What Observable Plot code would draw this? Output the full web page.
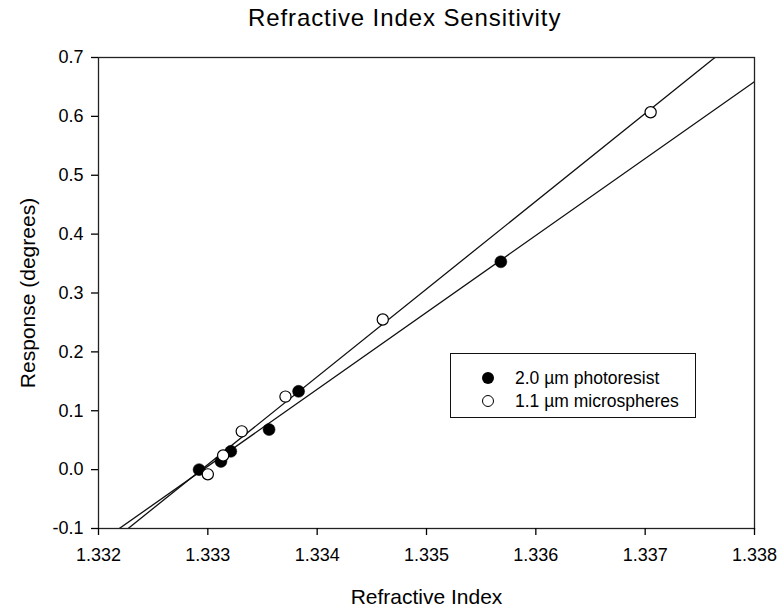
<!DOCTYPE html>
<html>
<head>
<meta charset="utf-8">
<script src="https://cdn.jsdelivr.net/npm/d3@7"></script>
<script src="https://cdn.jsdelivr.net/npm/@observablehq/plot@0.6"></script>
<style>
  body { margin: 0; background: #fff; font-family: "Liberation Sans", Arial, sans-serif; }
  #wrap { position: relative; width: 779px; height: 610px; overflow: hidden; }
  #title { position: absolute; left: 248px; top: 4px; font-size: 24px; letter-spacing: 0.9px; color: #000; white-space: nowrap; }
  #chart { position: absolute; left: 0; top: 40px; }
  #legend { position: absolute; left: 450px; top: 353px; width: 246px; height: 65px; border: 1px solid #111; box-sizing: border-box; background: #fff; }
  .item { position: absolute; left: 0; height: 20px; font-size: 17.5px; line-height: 20px; color: #000; white-space: nowrap; }
  .sym { position: absolute; left: 31px; top: 4px; width: 12px; height: 12px; border-radius: 50%; box-sizing: border-box; }
  .lbl { position: absolute; left: 64px; top: 0; }
</style>
</head>
<body>
<div id="wrap">
  <div id="title">Refractive Index Sensitivity</div>
  <div id="chart"></div>
  <div id="legend"></div>
</div>
<script>
// ---- data ----
const seriesNames = ["2.0 µm photoresist", "1.1 µm microspheres"];
const photoresistX = [1.33292, 1.33312, 1.33321, 1.33356, 1.33383, 1.33568];
const photoresistY = [0.000, 0.014, 0.031, 0.068, 0.133, 0.353];
const microspheresX = [1.33300, 1.33314, 1.33331, 1.33371, 1.33460, 1.33705];
const microspheresY = [-0.008, 0.024, 0.065, 0.124, 0.255, 0.607];
const xTicks = [1.332, 1.333, 1.334, 1.335, 1.336, 1.337, 1.338];
const yTicks = [-0.1, 0.0, 0.1, 0.2, 0.3, 0.4, 0.5, 0.6, 0.7];

const xDomain = [xTicks[0], xTicks[xTicks.length - 1]];
const yDomain = [yTicks[0], yTicks[yTicks.length - 1]];

const toRows = (xs, ys, s) => xs.map((x, i) => ({x, y: ys[i], s}));
const photo = toRows(photoresistX, photoresistY, seriesNames[0]);
const micro = toRows(microspheresX, microspheresY, seriesNames[1]);

// least-squares fit for each series, drawn across the x domain
function fit(rows) {
  const mx = d3.mean(rows, d => d.x), my = d3.mean(rows, d => d.y);
  const sxy = d3.sum(rows, d => (d.x - mx) * (d.y - my));
  const sxx = d3.sum(rows, d => (d.x - mx) ** 2);
  const b = sxy / sxx, a = my - b * mx;
  return xDomain.map(x => ({x, y: a + b * x, s: rows[0].s}));
}
const fitRows = [...fit(photo), ...fit(micro)];

const chart = Plot.plot({
  width: 779,
  height: 570,
  marginTop: 17,
  marginBottom: 82,
  marginLeft: 98,
  marginRight: 25,
  style: { fontFamily: '"Liberation Sans", Arial, sans-serif', fontSize: "18px", color: "#000", background: "#fff" },
  x: { domain: xDomain },
  y: { domain: yDomain },
  marks: [
    Plot.line(fitRows, { x: "x", y: "y", z: "s", stroke: "#111", strokeWidth: 1.3, clip: "frame" }),
    Plot.frame({ stroke: "#222", strokeWidth: 1.3 }),
    Plot.axisX({ ticks: xTicks, tickFormat: d => d.toFixed(3), tickSize: 7, tickPadding: 13, label: null, fontSize: 18, strokeWidth: 1.3 }),
    Plot.axisY({ ticks: yTicks, tickFormat: d => d.toFixed(1), tickSize: 7, tickPadding: 8, label: null, fontSize: 18, strokeWidth: 1.3 }),
    Plot.dot(photo, { x: "x", y: "y", r: 6, fill: "#000", stroke: "#000", strokeWidth: 0.5 }),
    Plot.dot(micro, { x: "x", y: "y", r: 5.6, fill: "#fff", stroke: "#000", strokeWidth: 1.2 }),
    Plot.text(["Refractive Index"], { text: d => d, frameAnchor: "bottom", dy: 69, lineAnchor: "middle", textAnchor: "middle", fontSize: 21, fill: "#000" }),
    Plot.text(["Response (degrees)"], { text: d => d, frameAnchor: "left", dx: -70, rotate: -90, lineAnchor: "middle", textAnchor: "middle", fontSize: 21, fill: "#000" })
  ]
});
document.getElementById("chart").appendChild(chart);

// legend
const legend = document.getElementById("legend");
seriesNames.forEach((name, i) => {
  const item = document.createElement("div");
  item.className = "item";
  item.style.top = (i === 0 ? 14 : 37) + "px";
  item.style.width = "100%";
  const sym = document.createElement("span");
  sym.className = "sym";
  if (i === 0) { sym.style.background = "#000"; }
  else { sym.style.background = "#fff"; sym.style.border = "1.3px solid #000"; }
  const lbl = document.createElement("span");
  lbl.className = "lbl";
  lbl.textContent = name;
  item.appendChild(sym);
  item.appendChild(lbl);
  legend.appendChild(item);
});
</script>
</body>
</html>
